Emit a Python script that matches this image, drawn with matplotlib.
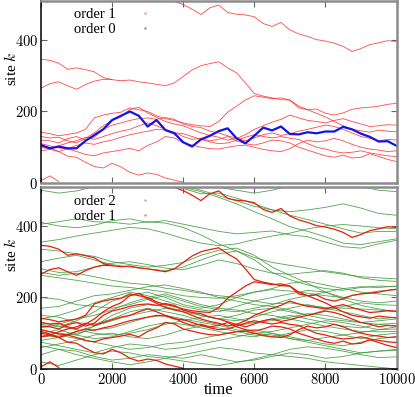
import numpy as np
import matplotlib
matplotlib.use('Agg')
import matplotlib.pyplot as plt
from matplotlib.lines import Line2D
from matplotlib.ticker import FuncFormatter

plt.rcParams['font.family'] = ['Liberation Serif', 'DejaVu Serif']
plt.rcParams['mathtext.fontset'] = 'cm'

# ---------------- data ----------------
t_fine = np.arange(0, 10001, 250)     # sampling times of order-0 / order-1 paths
t_coarse = np.arange(0, 10001, 500)   # sampling times of order-2 paths
NA = np.nan

order0 = [106, 97, 102, 97, 97, 118, 134, 150, 176, 188, 200, 188, 158, 176, 148, 139,
          114, 102, 122, 132, 145, 153, 125, 111, 132, 155, 147, 158, 137, 136, 142, 139,
          144, 144, 157, 150, 138, 129, 116, 117, 104]

order1 = {
    'A': [516, 507, 514, 522, 528, 534, 540, 545, 540, 536, 530, 528, 524, 520, 514, 508,
          499, 486, 471, 490, 498, 477, 472, 470, 465, 446, 438, 449, 428, 417, 410, 401,
          397, 391, 382, 368, 376, 387, 392, 398, 396],
    'B': [346, 343, 335, 318, 322, 317, 311, 295, 289, 286, 288, 283, 280, 276, 272, 280,
          298, 316, 328, 334, 339, 322, 308, 280, 250, 243, 238, 233, 232, 215, 205, 195,
          185, 172, 160, 150, 146, 142, 148, 145, 143],
    'C': [265, 278, 283, 272, 262, 275, 285, 290, 289] + [NA] * 32,
    'D': [142, 138, 132, 136, 140, 150, 182, 190, 195, 198, 210, 205, 200, 188, 180, 175,
          168, 163, 160, 158, 172, 198, 215, 232, 244, 240, 236, 238, 232, 210, 205, 207,
          195, 190, 196, 206, 210, 212, 215, 220, 223],
    'R2': [130, 126, 128, 118, 112, 125, 140, 160, 175, 185, 205, 212, 196, 184, 172, 165,
           160, 150, 140, 133, 128, 120, 125, 135, 150, 160, 170, 178, 190, 182, 175, 172,
           168, 175, 180, 172, 165, 158, 160, 163, 162],
    'R3': [120, 118, 112, 124, 130, 120, 128, 150, 162, 168, 175, 180, 182, 178, 183, 178,
           165, 158, 155, 145, 140, 132, 125, 118, 126, 135, 140, 133, 138, 145, 150, 156,
           162, 158, 150, 140, 130, 125, 118, 122, 120],
    'R4': [110, 104, 98, 95, 88, 80, 76, 84, 88, 92, 97, 90, 105, 115, 130, 126,
           112, 106, 100, 96, 95, 100, 104, 106, 100, 94, 90, 88, 96, 110, 120, 115,
           118, 125, 118, 108, 100, 95, 92, 88, 90],
    'R5': [100, 95, 104, 112, 118, 128, 122, 130, 138, 145, 150, 160, 168, 160, 150, 142,
           130, 122, 125, 118, 122, 130, 118, 110, 106, 112, 120, 118, 112, 100, 92, 84,
           76, 72, 78, 70, 72, 82, 74, 66, 60],
    'R6': [90, 94, 88, 96, 105, 112, 108, 115, 120, 128, 135, 140, 145, 150, 148, 140,
           138, 130, 122, 115, 110, 112, 120, 128, 135, 130, 126, 130, 125, 122, 110, 100,
           95, 88, 84, 86, 90, 84, 80, 76, 74],
    'E': [105, 98, 88, 75, 72, 58, 46, 42, 55, 45, 30, 22, 28, 24, 14, 8, 2] + [NA] * 24,
    'F': [6, 20, 4] + [NA] * 38,
}

order2 = [
    # upper family
    [500, 492, 498, 510, 525, 535, 540, 530, 505, 490, 492, 478, 462, 445, 430, 418, 405, 392, 380, 385, 384],
    [540, 540, 538, 535, 530, 528, 525, 518, 508, 496, 480, 462, 440, 420, 398, 385, 370, 352, 348, 356, 364],
    [545, 540, 535, 530, 528, 525, 522, 520, 512, 500, 485, 470, 455, 445, 440, 445, 452, 462, 450, 435, 430],
    [560, 558, 555, 552, 548, 545, 540, 535, 528, 518, 508, 500, 492, 500, 512, 525, 530, 522, 510, 500, 496],
    [405, 412, 420, 412, 410, 405, 412, 408, 396, 375, 350, 330, 312, 298, 290, 282, 272, 265, 258, 255, 252],
    [410, 400, 395, 402, 415, 420, 410, 415, 405, 395, 385, 378, 382, 386, 375, 370, 355, 342, 338, 350, 360],
    [355, 362, 372, 380, 388, 396, 392, 380, 365, 352, 345, 350, 362, 372, 380, 392, 400, 404, 400, 395, 392],
    # middle-upper family
    [335, 330, 322, 315, 300, 292, 285, 290, 298, 318, 332, 338, 318, 285, 262, 240, 215, 195, 178, 168, 160],
    [300, 310, 318, 305, 292, 285, 280, 275, 285, 305, 322, 330, 305, 270, 250, 235, 225, 220, 228, 232, 230],
    [280, 270, 272, 285, 296, 300, 292, 282, 278, 290, 305, 295, 280, 268, 265, 270, 275, 268, 255, 248, 245],
    [262, 255, 248, 240, 232, 228, 222, 215, 205, 200, 198, 205, 215, 222, 218, 212, 205, 200, 210, 218, 222],
    [270, 262, 268, 258, 248, 240, 236, 226, 220, 212, 205, 200, 190, 182, 185, 178, 172, 170, 168, 165, 160],
    # middle cluster
    [140, 150, 165, 185, 200, 215, 205, 190, 175, 165, 160, 175, 190, 200, 210, 220, 215, 225, 230, 228, 232],
    [125, 118, 135, 160, 190, 205, 215, 200, 180, 170, 180, 200, 215, 225, 240, 245, 235, 225, 215, 210, 205],
    [110, 100, 95, 120, 150, 170, 180, 175, 160, 150, 140, 150, 165, 170, 160, 150, 165, 175, 185, 180, 178],
    [95, 90, 105, 120, 135, 150, 160, 170, 165, 150, 140, 135, 145, 160, 170, 180, 170, 160, 150, 140, 145],
    [150, 145, 130, 125, 140, 160, 170, 160, 150, 135, 125, 120, 130, 140, 150, 140, 130, 120, 115, 125, 128],
    [80, 88, 100, 110, 115, 130, 145, 150, 140, 130, 122, 110, 100, 105, 115, 125, 135, 130, 120, 110, 112],
    [60, 70, 80, 95, 100, 90, 85, 95, 110, 120, 115, 105, 95, 90, 100, 110, 105, 95, 85, 95, 100],
    [130, 120, 110, 100, 95, 100, 110, 125, 135, 145, 150, 140, 130, 135, 145, 155, 150, 140, 130, 135, 140],
    [200, 195, 180, 175, 170, 180, 195, 205, 190, 175, 165, 160, 170, 180, 195, 205, 215, 200, 190, 185, 190],
    [170, 175, 190, 205, 210, 220, 230, 235, 225, 215, 200, 190, 180, 175, 165, 150, 140, 135, 130, 125, 120],
    [115, 125, 140, 150, 165, 185, 200, 210, 195, 180, 170, 165, 155, 150, 140, 130, 120, 112, 105, 104, 105],
    [100, 110, 95, 85, 90, 105, 120, 130, 125, 115, 105, 95, 90, 100, 85, 80, 88, 95, 102, 110, 118],
    # lower family
    [40, 55, 50, 35, 25, 30, 40, 35, 30, 40, 30, 20, 25, 35, 45, 40, 30, 35, 45, 50, 52],
    [20, 10, 25, 40, 50, 45, 35, 30, 40, 50, 60, 55, 45, 40, 35, 30, 20, 15, 10, 5, 0],
    [75, 65, 55, 45, 60, 70, 65, 55, 60, 70, 80, 90, 100, 95, 85, 75, 65, 55, 45, 50, 55],
    [90, 95, 85, 75, 65, 55, 60, 70, 75, 85, 95, 105, 110, 100, 90, 80, 70, 65, 75, 85, 90],
    [65, 55, 40, 30, 20, 12, 20, 30, 22, 15, 10, 18, 28, 40, 55, 62, 58, 50, 40, 32, 34],
]

legend_top = ['order 1', 'order 0']
legend_bottom = ['order 2', 'order 1']
x_ticks = [0, 2000, 4000, 6000, 8000, 10000]
y_ticks = [0, 200, 400]

# ---------------- style ----------------
RED_TOP = '#ff2a2a'
RED_BOT = '#e3200c'
BLUE = '#1414e6'
GREEN = '#3f9a3a'

W, H = 415, 397
fig = plt.figure(figsize=(W / 100, H / 100), dpi=100)
ax1 = fig.add_axes([41 / W, 1 - 183 / H, 355.5 / W, 182 / H])
ax2 = fig.add_axes([41 / W, 1 - 369 / H, 355.5 / W, 182 / H])

for name, ys in order1.items():
    ax1.plot(t_fine, ys, color=RED_TOP, lw=0.6, alpha=0.85)
ax1.plot(t_fine, order0, color=BLUE, lw=1.6)

for ys in order2:
    ax2.plot(t_coarse, ys, color=GREEN, lw=0.6, alpha=0.9)
for name, ys in order1.items():
    ax2.plot(t_fine, ys, color=RED_BOT, lw=0.9)

fmt = FuncFormatter(lambda v, p: r'$%d$' % v)
for ax in (ax1, ax2):
    ax.set_xlim(0, 10000)
    ax.set_ylim(0, 509)
    ax.set_xticks(x_ticks)
    ax.set_yticks(y_ticks)
    ax.yaxis.set_major_formatter(fmt)
    ax.xaxis.set_major_formatter(fmt)
    ax.tick_params(direction='in', top=True, right=True, length=4, width=0.8,
                   color='#666666', labelsize=10.5, pad=2)
    for s in ('top', 'right'):
        ax.spines[s].set_color('#8c8c8c')
        ax.spines[s].set_linewidth(1.8)
    ax.spines['left'].set_color('black')
    ax.spines['left'].set_linewidth(1.1)
    ax.set_ylabel('site $k$', fontsize=11)
    ax.yaxis.set_label_coords(-0.063, 0.63)

ax1.spines['bottom'].set_color('#8c8c8c')
ax1.spines['bottom'].set_linewidth(1.8)
ax1.tick_params(labelbottom=False)
ax2.spines['bottom'].set_color('black')
ax2.spines['bottom'].set_linewidth(1.1)
ax2.set_xlabel('time', fontsize=12)
ax2.xaxis.set_label_coords(0.5, -0.072)

def mk(c):
    return Line2D([], [], ls='none', marker='s', ms=0.8, color=c, alpha=0.4)

ax1.legend([mk(RED_TOP), mk(BLUE)], legend_top, loc='upper left', bbox_to_anchor=(0.06, 1.025),
           frameon=False, markerfirst=False, handlelength=3, handletextpad=0.5,
           labelspacing=0.12, fontsize=10.5, borderpad=0.3)
ax2.legend([mk(GREEN), mk(RED_BOT)], legend_bottom, loc='upper left', bbox_to_anchor=(0.06, 1.02),
           frameon=False, markerfirst=False, handlelength=3, handletextpad=0.5,
           labelspacing=0.12, fontsize=10.5, borderpad=0.3)

fig.savefig('out.png', dpi=100)
